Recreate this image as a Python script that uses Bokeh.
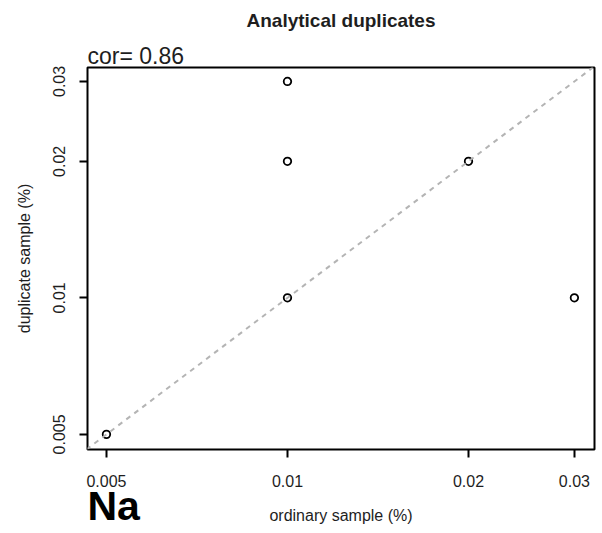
from bokeh.plotting import figure
from bokeh.models import FixedTicker, Range1d, Slope, Title
from bokeh.embed import file_html
from bokeh.resources import INLINE

# data
ordinary = [0.005, 0.01, 0.01, 0.01, 0.02, 0.03]
duplicate = [0.005, 0.03, 0.02, 0.01, 0.02, 0.01]
tick_values = [0.005, 0.01, 0.02, 0.03]
tick_labels = ["0.005", "0.01", "0.02", "0.03"]
title_text = "Analytical duplicates"
x_label = "ordinary sample (%)"
y_label = "duplicate sample (%)"
cor_text = "cor= 0.86"
element = "Na"

FONT = "Liberation Sans"
TXT = "#1e1e1e"

p = figure(width=600, height=531, x_axis_type="log", y_axis_type="log",
           x_range=Range1d(0.00465, 0.0324), y_range=Range1d(0.00463, 0.0322),
           output_backend="svg", toolbar_location=None, title=None,
           min_border_left=87, min_border_top=67, min_border_bottom=82, min_border_right=6)

p.outline_line_color = "black"
p.outline_line_width = 2
p.outline_line_alpha = 1
p.xgrid.visible = False
p.ygrid.visible = False

for ax in (p.xaxis[0], p.yaxis[0]):
    ax.ticker = FixedTicker(ticks=tick_values, minor_ticks=[])
    ax.major_label_overrides = {v: s for v, s in zip(tick_values, tick_labels)}
    ax.axis_line_color = None
    ax.major_tick_in = 0
    ax.major_tick_out = 8
    ax.major_tick_line_width = 2
    ax.major_tick_line_color = "black"
    ax.minor_tick_line_color = None
    ax.major_label_text_font = FONT
    ax.major_label_text_font_size = "16px"
    ax.major_label_text_color = TXT
    ax.axis_label_text_font = FONT
    ax.axis_label_text_font_size = "16px"
    ax.axis_label_text_font_style = "normal"
    ax.axis_label_text_color = TXT

p.xaxis[0].axis_label = x_label
p.xaxis[0].major_label_standoff = 17
p.xaxis[0].axis_label_standoff = 17
p.yaxis[0].axis_label = y_label
p.yaxis[0].major_label_orientation = "vertical"
p.yaxis[0].major_label_standoff = 14
p.yaxis[0].axis_label_standoff = 18

# titles above: first added sits nearest the frame
p.add_layout(Title(text=cor_text, align="left", text_font=FONT, text_font_size="23px",
                   text_font_style="normal", text_color=TXT, standoff=-2), "above")
p.add_layout(Title(text=title_text, align="center", vertical_align="top", text_font=FONT,
                   text_font_size="19px", text_font_style="bold", text_color=TXT,
                   standoff=17), "above")
# element label below, pulled up beside the axis title
p.add_layout(Title(text=element, align="left", vertical_align="top", text_font=FONT,
                   text_font_size="41px", text_font_style="bold", text_color="black",
                   standoff=-88), "below")

p.add_layout(Slope(gradient=1, y_intercept=0, line_color="#b4b4b4",
                   line_width=2, line_dash="5 5"))

p.scatter(ordinary, duplicate, marker="circle", size=7.5, fill_color=None,
          line_color="black", line_width=1.8)

open("out.html", "w").write(file_html(p, INLINE))
